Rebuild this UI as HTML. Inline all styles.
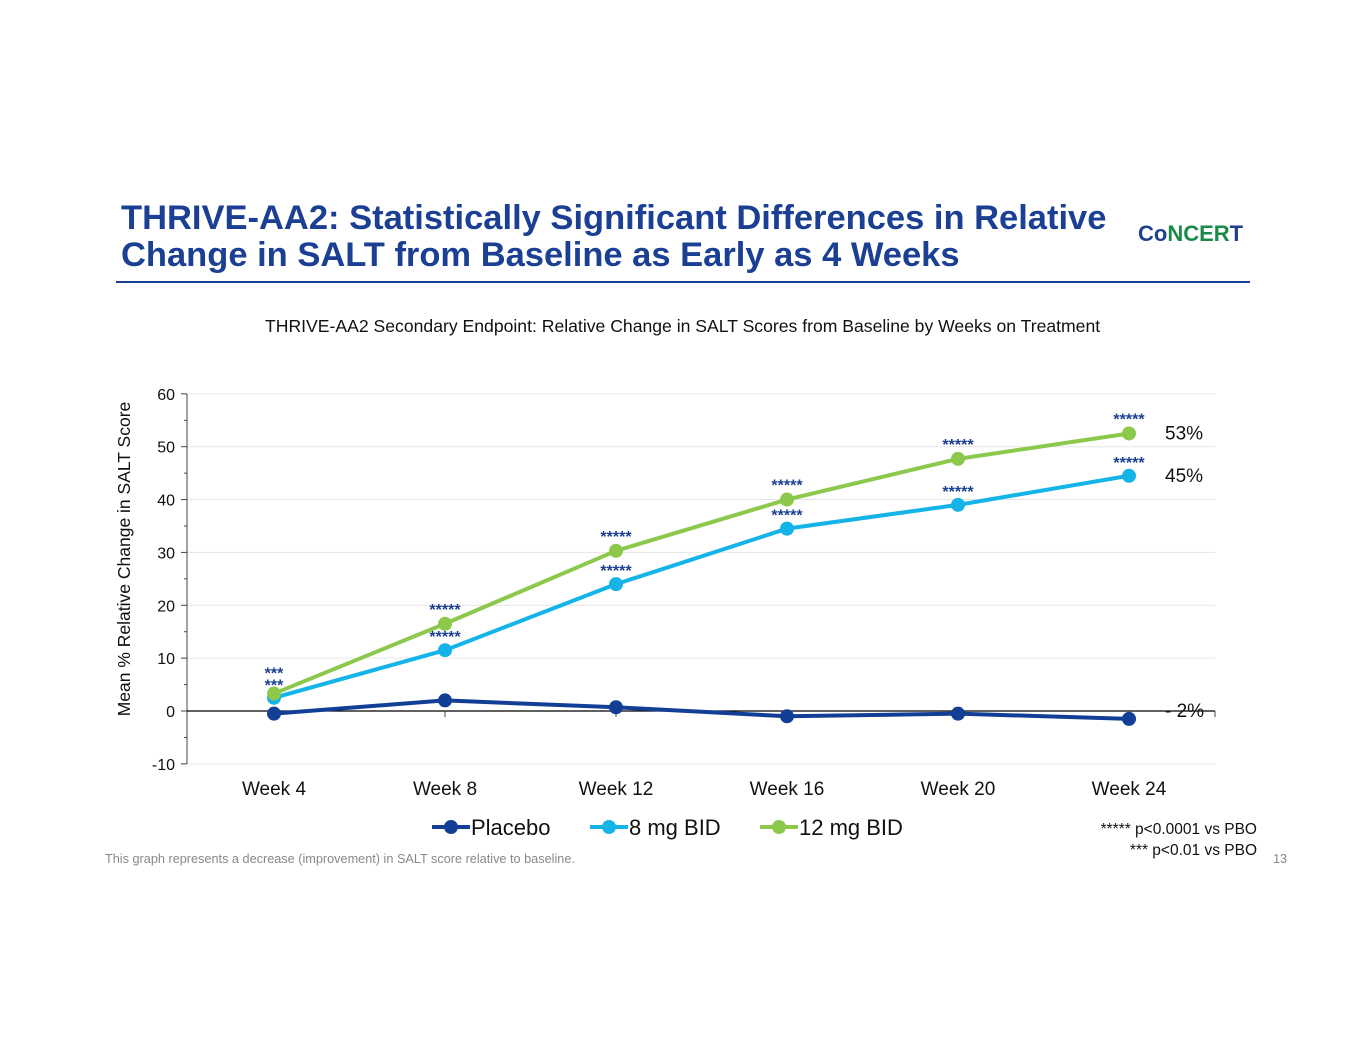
<!DOCTYPE html>
<html><head><meta charset="utf-8"><style>
body{margin:0;background:#fff;font-family:"Liberation Sans",Arial,sans-serif;}
#root{position:relative;width:1365px;height:1055px;overflow:hidden;}
.t{position:absolute;white-space:nowrap;}
</style></head><body>
<div id="root">
<div class="t" style="left:121px;top:200px;font-size:34.5px;font-weight:bold;color:#1a3f93;line-height:37px;">THRIVE-AA2: Statistically Significant Differences in Relative<br>Change in SALT from Baseline as Early as 4 Weeks</div>
<div class="t" style="left:1138px;top:221px;font-size:22px;font-weight:bold;"><span style="color:#1f3f8f">Co</span><span style="color:#1c8a48">NCER</span><span style="color:#1f3f8f">T</span></div>
<div style="position:absolute;left:116px;top:281px;width:1134px;height:2px;background:#1a3f93;"></div>
<div class="t" style="left:265px;top:316px;font-size:17.6px;color:#111;">THRIVE-AA2 Secondary Endpoint: Relative Change in SALT Scores from Baseline by Weeks on Treatment</div>
<svg id="chart" width="1365" height="1055" style="position:absolute;left:0;top:0;"></svg>
<div class="t" style="left:105px;top:852px;font-size:12.7px;color:#888;">This graph represents a decrease (improvement) in SALT score relative to baseline.</div>
<div class="t" style="left:1273px;top:852px;font-size:12.7px;color:#888;">13</div>
<div class="t" style="right:108px;top:819px;font-size:15.5px;color:#111;text-align:right;line-height:21px;">***** p&lt;0.0001 vs PBO<br>*** p&lt;0.01 vs PBO</div>
</div>
<script>
const categories=["Week 4","Week 8","Week 12","Week 16","Week 20","Week 24"];
const placebo=[-0.5,2,0.7,-1,-0.5,-1.5];
const mg8=[2.5,11.5,24,34.5,39,44.5];
const mg12=[3.3,16.5,30.3,40,47.7,52.5];
const yTicks=[60,50,40,30,20,10,0,-10];
const starsTop=["***","*****","*****","*****","*****","*****"];
const starsBot=["***","*****","*****","*****","*****","*****"];
const endLabels=["53%","45%","- 2%"];
const NS="http://www.w3.org/2000/svg";
const svg=document.getElementById('chart');
const X=i=>274+i*171;
const Y=v=>711-v*5.286;
function mk(t,a,txt){const e=document.createElementNS(NS,t);for(const k in a)e.setAttribute(k,a[k]);if(txt!==undefined)e.textContent=txt;svg.appendChild(e);return e;}
yTicks.forEach(v=>{
 if(v!==0){const g=mk('line',{x1:187,x2:1215,y1:Y(v),y2:Y(v),stroke:'#e6e6e6','stroke-width':1});}
 const l=mk('text',{x:175,y:Y(v)+6,'text-anchor':'end','font-size':16,fill:'#111'},v);
 
 mk('line',{x1:181,x2:187,y1:Y(v),y2:Y(v),stroke:'#444'});
 if(v>-10)mk('line',{x1:184,x2:187,y1:Y(v-5),y2:Y(v-5),stroke:'#444'});
});
const ax=mk('line',{x1:187,x2:187,y1:Y(60),y2:Y(-10),stroke:'#444'});

const zx=mk('line',{x1:187,x2:1215,y1:Y(0),y2:Y(0),stroke:'#000','stroke-width':1.3});

mk('line',{x1:1215,x2:1215,y1:Y(0),y2:Y(0)+6,stroke:'#444'});
categories.forEach((c,i)=>{
 mk('line',{x1:X(i),x2:X(i),y1:Y(0),y2:Y(0)+6,stroke:'#444'});
 const t=mk('text',{x:X(i),y:795,'text-anchor':'middle','font-size':19,fill:'#111'},c);
 
});
const yt=mk('text',{transform:'translate(130,559) rotate(-90)','text-anchor':'middle','font-size':17.5,fill:'#111'},'Mean % Relative Change in SALT Score');

function series(arr,color,name){
 const p=mk('polyline',{points:arr.map((v,i)=>X(i)+','+Y(v)).join(' '),fill:'none',stroke:color,'stroke-width':4});
 
 arr.forEach((v,i)=>{const c=mk('circle',{cx:X(i),cy:Y(v),r:7,fill:color});});
}
series(placebo,'#123f95','placebo');
series(mg8,'#14b4e8','8mg');
series(mg12,'#8cc84b','12mg');
categories.forEach((c,i)=>{
 const ta=i===0?Y(mg12[i])-15:Y(mg12[i])-9;
 const a=mk('text',{x:X(i),y:ta,'text-anchor':'middle','font-size':16,'font-weight':'bold',fill:'#1a3f93'},starsTop[i]);
 
 const tb=i===0?Y(mg12[i])-3:Y(mg8[i])-8;
 const b=mk('text',{x:X(i),y:tb,'text-anchor':'middle','font-size':16,'font-weight':'bold',fill:'#1a3f93'},starsBot[i]);
 
});
[[mg12[5],endLabels[0],6],[mg8[5],endLabels[1],6],[placebo[5],endLabels[2],-2]].forEach(([v,t,o])=>{
 const e=mk('text',{x:1165,y:Y(v)+o,'font-size':19,fill:'#111'},t);
 
});
[['Placebo','#123f95',432],['8 mg BID','#14b4e8',590],['12 mg BID','#8cc84b',760]].forEach(([n,c,x])=>{
 mk('line',{x1:x,x2:x+38,y1:827,y2:827,stroke:c,'stroke-width':4});
 mk('circle',{cx:x+19,cy:827,r:7,fill:c});
 const t=mk('text',{x:x+39,y:835,'font-size':22,fill:'#111'},n);
 
});
</script>
</body></html>
